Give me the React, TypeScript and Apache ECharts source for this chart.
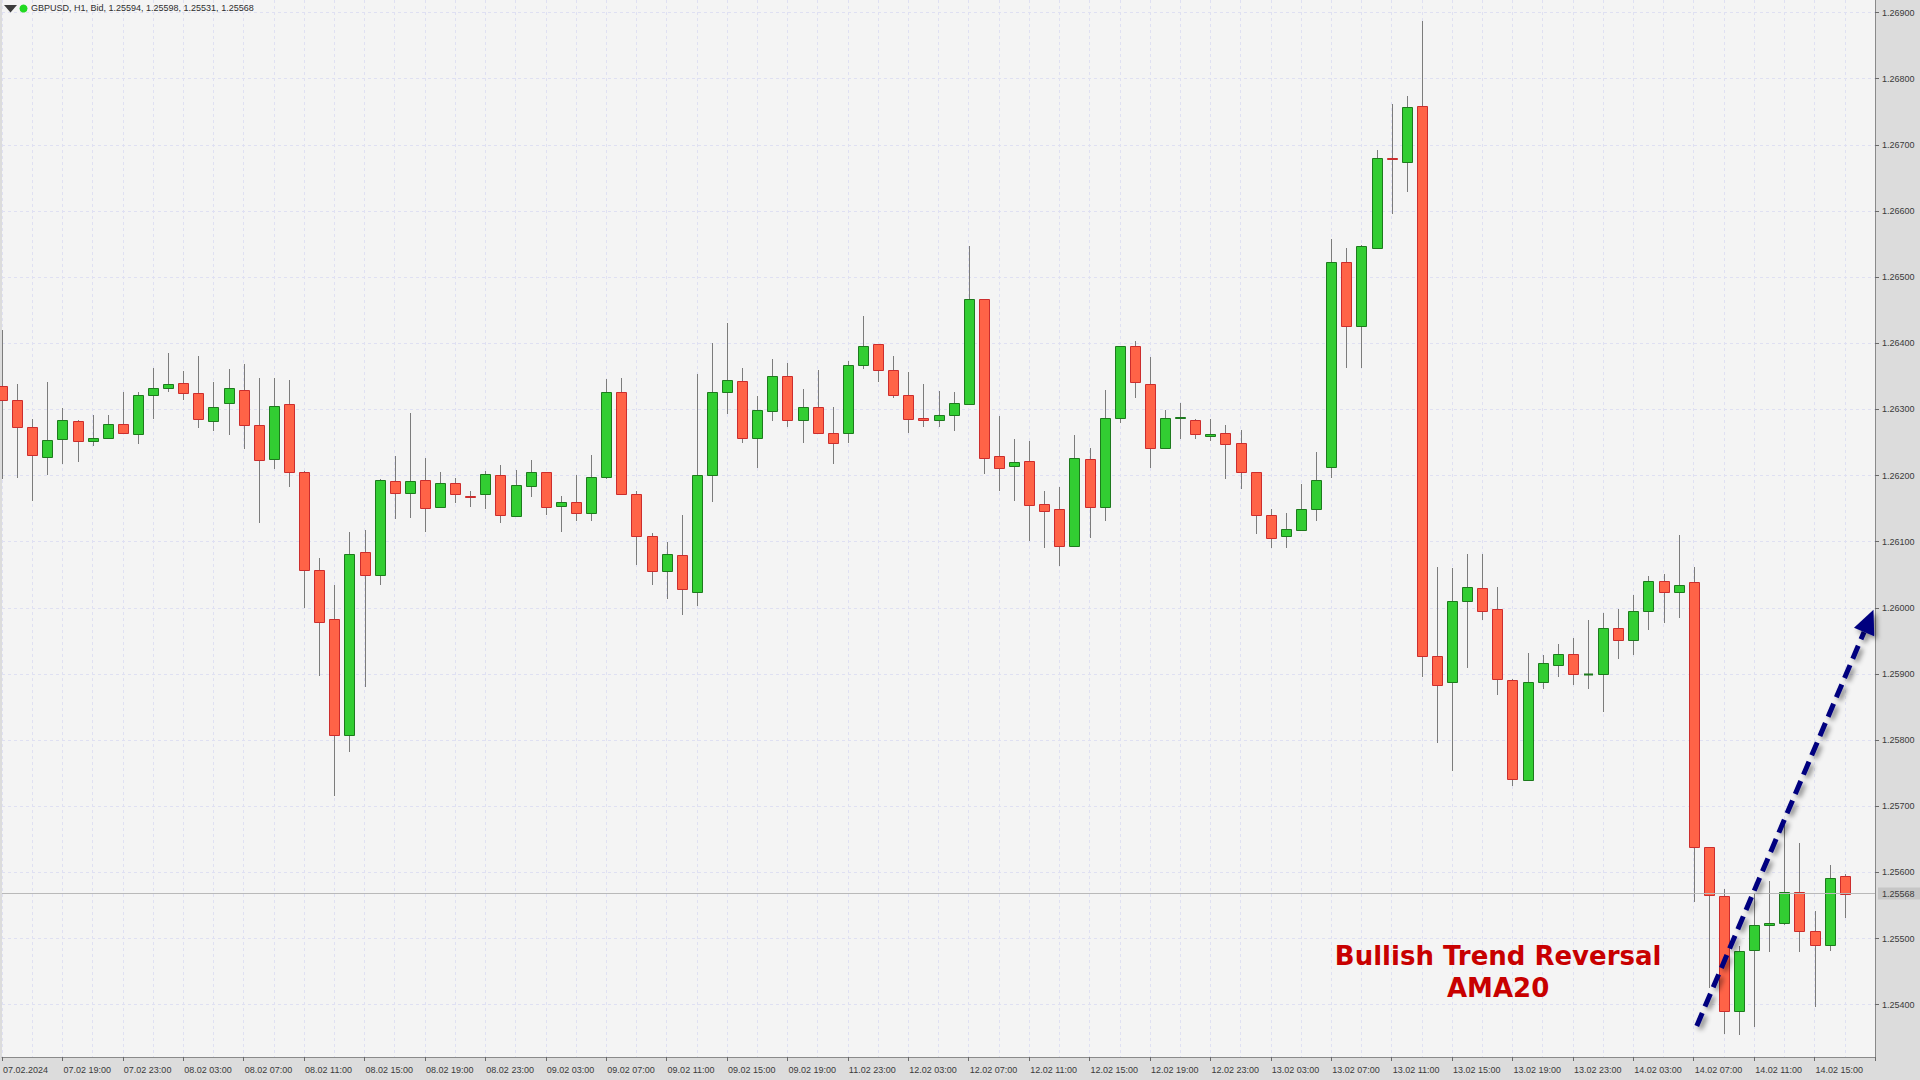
import React, { useEffect, useRef } from 'react';
import * as echarts from 'echarts';

// ---------- data ----------
const HEADER = 'GBPUSD, H1, Bid, 1.25594, 1.25598, 1.25531, 1.25568';

// trading sessions: [day, first hour, last hour]
const SESSIONS: [string, number, number][] = [
  ['07.02', 15, 23], ['08.02', 0, 23], ['09.02', 0, 22], ['11.02', 23, 23],
  ['12.02', 0, 23], ['13.02', 0, 23], ['14.02', 0, 19],
];
const CATEGORIES: string[] = [];
SESSIONS.forEach(([d, a, b]) => {
  for (let h = a; h <= b; h++) CATEGORIES.push(`${d} ${String(h).padStart(2, '0')}:00`);
});

const TICK_LABELS = [
  '07.02.2024', '07.02 19:00', '07.02 23:00', '08.02 03:00', '08.02 07:00', '08.02 11:00',
  '08.02 15:00', '08.02 19:00', '08.02 23:00', '09.02 03:00', '09.02 07:00', '09.02 11:00',
  '09.02 15:00', '09.02 19:00', '11.02 23:00', '12.02 03:00', '12.02 07:00', '12.02 11:00',
  '12.02 15:00', '12.02 19:00', '12.02 23:00', '13.02 03:00', '13.02 07:00', '13.02 11:00',
  '13.02 15:00', '13.02 19:00', '13.02 23:00', '14.02 03:00', '14.02 07:00', '14.02 11:00',
  '14.02 15:00',
];

const PRICE_TICKS = [
  1.254, 1.255, 1.256, 1.257, 1.258, 1.259, 1.26, 1.261,
  1.262, 1.263, 1.264, 1.265, 1.266, 1.267, 1.268, 1.269,
];
const CURRENT_PRICE = 1.25568;

const OPEN = [
  1.26335, 1.26315, 1.26273, 1.26228, 1.26255, 1.26282, 1.26252, 1.26257, 1.26278, 1.26263,
  1.26322, 1.26332, 1.2634, 1.26325, 1.26283, 1.26309, 1.26329, 1.26276, 1.26225, 1.26308,
  1.26205, 1.26058, 1.25983, 1.25808, 1.26085, 1.26049, 1.26192, 1.26174, 1.26194, 1.26153,
  1.26189, 1.26169, 1.26172, 1.26201, 1.26139, 1.26184, 1.26205, 1.26154, 1.2616, 1.26144,
  1.26198, 1.26326, 1.26172, 1.26108, 1.26055, 1.2608, 1.26024, 1.26201, 1.26326, 1.26343,
  1.26257, 1.26298, 1.26351, 1.26284, 1.26303, 1.26264, 1.26264, 1.26367, 1.26399, 1.26359,
  1.26322, 1.26287, 1.26284, 1.26292, 1.26308, 1.26467, 1.26229, 1.26214, 1.26222, 1.26157,
  1.26149, 1.26093, 1.26225, 1.26152, 1.26287, 1.26396, 1.26338, 1.26241, 1.26287, 1.26284,
  1.2626, 1.26265, 1.26249, 1.26205, 1.26141, 1.26108, 1.26117, 1.26149, 1.26213, 1.26523,
  1.26426, 1.26544, 1.2668, 1.26674, 1.26758, 1.25927, 1.25888, 1.2601, 1.2603, 1.25998,
  1.25891, 1.2574, 1.25888, 1.25913, 1.2593, 1.259, 1.259, 1.25969, 1.25951, 1.25995,
  1.26041, 1.26024, 1.26039, 1.25638, 1.25564, 1.2539, 1.25483, 1.25521, 1.25523, 1.25571,
  1.25512, 1.25491, 1.25594,
];
const HIGH = [
  1.2642, 1.26338, 1.26286, 1.26342, 1.26302, 1.26284, 1.26291, 1.26291, 1.26326, 1.26327,
  1.26363, 1.26385, 1.26358, 1.26381, 1.26341, 1.26361, 1.26369, 1.26347, 1.26347, 1.26345,
  1.26207, 1.26075, 1.26035, 1.26114, 1.26117, 1.26195, 1.26229, 1.26294, 1.26227, 1.26206,
  1.26197, 1.26176, 1.26207, 1.26216, 1.26209, 1.26223, 1.26206, 1.26169, 1.26201, 1.26231,
  1.26346, 1.26347, 1.26177, 1.26113, 1.26099, 1.2614, 1.26354, 1.26401, 1.26431, 1.26362,
  1.2632, 1.26376, 1.2637, 1.26331, 1.2636, 1.26303, 1.26373, 1.26441, 1.26399, 1.26381,
  1.26356, 1.26339, 1.26328, 1.26326, 1.26547, 1.26467, 1.2629, 1.26256, 1.26253, 1.26176,
  1.26182, 1.26262, 1.26242, 1.26329, 1.26396, 1.26404, 1.2638, 1.26299, 1.2631, 1.26285,
  1.26286, 1.26277, 1.26269, 1.26206, 1.2615, 1.26144, 1.26187, 1.26235, 1.26558, 1.26544,
  1.26548, 1.26692, 1.26762, 1.26774, 1.26887, 1.26062, 1.2606, 1.26081, 1.26081, 1.26032,
  1.25892, 1.25932, 1.25929, 1.25946, 1.25955, 1.25982, 1.25992, 1.25998, 1.2602, 1.26048,
  1.26051, 1.2611, 1.26062, 1.25638, 1.25575, 1.25489, 1.25569, 1.25587, 1.25677, 1.25645,
  1.25541, 1.25611, 1.25598,
];
const LOW = [
  1.26195, 1.26196, 1.26162, 1.26201, 1.26218, 1.26221, 1.26245, 1.26256, 1.26263, 1.26248,
  1.26286, 1.26327, 1.26314, 1.26272, 1.26268, 1.26261, 1.2624, 1.26129, 1.2621, 1.26183,
  1.26, 1.25897, 1.25715, 1.25782, 1.25881, 1.26035, 1.26134, 1.26136, 1.26115, 1.26152,
  1.26159, 1.26153, 1.2615, 1.26129, 1.26139, 1.26167, 1.26141, 1.26115, 1.26132, 1.26132,
  1.26195, 1.26172, 1.26065, 1.26035, 1.26013, 1.25989, 1.26003, 1.2616, 1.26293, 1.2625,
  1.26212, 1.26283, 1.26273, 1.2625, 1.26265, 1.26217, 1.2625, 1.26361, 1.26341, 1.26318,
  1.26265, 1.26273, 1.26273, 1.26268, 1.26308, 1.26202, 1.26177, 1.26162, 1.26101, 1.2609,
  1.26063, 1.26093, 1.26105, 1.26132, 1.26279, 1.26318, 1.26211, 1.26241, 1.26255, 1.26255,
  1.26252, 1.26195, 1.2618, 1.26112, 1.2609, 1.2609, 1.26117, 1.26131, 1.26197, 1.26363,
  1.26363, 1.26544, 1.26596, 1.26629, 1.25896, 1.25795, 1.25754, 1.25909, 1.25981, 1.25869,
  1.2573, 1.25738, 1.25878, 1.25896, 1.25884, 1.25878, 1.25842, 1.25923, 1.25929, 1.25966,
  1.25977, 1.25984, 1.25555, 1.25426, 1.25356, 1.25354, 1.25367, 1.25479, 1.25521, 1.25479,
  1.25396, 1.25482, 1.25531,
];
const CLOSE = [
  1.26314, 1.26273, 1.26231, 1.26254, 1.26284, 1.26252, 1.26257, 1.26278, 1.26264, 1.26322,
  1.26333, 1.26338, 1.26325, 1.26285, 1.26303, 1.26333, 1.26277, 1.26223, 1.26305, 1.26206,
  1.26057, 1.25978, 1.25808, 1.26082, 1.2605, 1.26194, 1.26174, 1.26192, 1.26151, 1.26189,
  1.26172, 1.26167, 1.26202, 1.26141, 1.26186, 1.26206, 1.26152, 1.2616, 1.26144, 1.26198,
  1.26326, 1.26172, 1.26109, 1.26055, 1.26082, 1.26028, 1.26201, 1.26326, 1.26345, 1.26257,
  1.26299, 1.26351, 1.26284, 1.26303, 1.26265, 1.2625, 1.26367, 1.26396, 1.26359, 1.26322,
  1.26286, 1.26284, 1.26292, 1.2631, 1.26467, 1.26227, 1.26211, 1.2622, 1.26156, 1.26147,
  1.26093, 1.26227, 1.26152, 1.26287, 1.26396, 1.26341, 1.26241, 1.26287, 1.26289, 1.26263,
  1.26263, 1.26247, 1.26206, 1.26141, 1.26106, 1.26119, 1.26149, 1.26193, 1.26523, 1.26426,
  1.26547, 1.2668, 1.26679, 1.26757, 1.25927, 1.25884, 1.26011, 1.26032, 1.25996, 1.25892,
  1.25741, 1.25888, 1.25916, 1.2593, 1.259, 1.259, 1.2597, 1.25951, 1.25995, 1.26041,
  1.26024, 1.26034, 1.25638, 1.25566, 1.2539, 1.25482, 1.25521, 1.25524, 1.25571, 1.25511,
  1.2549, 1.25592, 1.25568,
];

// annotation anchors in data space: [category index, price]
const ARROW_FROM: [number, number] = [112.2, 1.25368];
const ARROW_TO: [number, number] = [123.9, 1.25997];
const NOTE_LINES = ['Bullish Trend Reversal', 'AMA20'];
const NOTE_ANCHORS: [number, number][] = [[99.05, 1.25474], [99.05, 1.25426]];

// ---------- styles ----------
const AXIS_FONT = "'Liberation Sans Narrow', 'Arial Narrow', 'Liberation Sans', sans-serif";
const TEXT_COLOR = '#3a3a3a';
const GRID_LINE = { color: '#dfe0f2', type: [3, 3] as any, width: 1 };
const UP_FILL = '#32cd32';
const UP_BORDER = '#1d7a1d';
const DOWN_FILL = '#ff6347';
const DOWN_BORDER = '#cc2d2d';
const WICK = '#7c7c7c';

export default function App() {
  const ref = useRef<HTMLDivElement>(null);

  useEffect(() => {
    if (!ref.current) return;
    const chart = echarts.init(ref.current, undefined, { renderer: 'svg' });

    const data = OPEN.map((o, i) => [i, o, CLOSE[i], LOW[i], HIGH[i]]);

    chart.setOption({
      animation: false,
      backgroundColor: '#dcdcdc',
      grid: {
        left: 0, right: 45, top: 0, bottom: 23,
        show: true, backgroundColor: '#f4f4f4', borderWidth: 0,
      },
      xAxis: {
        type: 'category',
        data: CATEGORIES,
        boundaryGap: false,
        axisLine: { show: true, lineStyle: { color: '#8a8a8a', width: 1 } },
        axisTick: { show: true, interval: 3, length: 4, lineStyle: { color: '#6a6a6a' } },
        axisLabel: {
          interval: 3,
          formatter: (_v: string, i: number) => TICK_LABELS[i / 4] ?? '',
          align: 'left',
          margin: 8,
          color: TEXT_COLOR,
          fontSize: 9,
          fontFamily: AXIS_FONT,
          padding: [0, 0, 0, 1],
        },
        splitLine: { show: true, interval: 1, lineStyle: GRID_LINE },
      },
      yAxis: {
        type: 'value',
        position: 'right',
        min: 1.25321,
        max: 1.26919,
        axisLine: { show: true, lineStyle: { color: '#8a8a8a', width: 1 } },
        axisTick: { show: true, length: 4, customValues: PRICE_TICKS, lineStyle: { color: '#6a6a6a' } },
        axisLabel: {
          customValues: PRICE_TICKS,
          formatter: (v: number) => v.toFixed(5),
          margin: 7,
          color: TEXT_COLOR,
          fontSize: 9,
          fontFamily: AXIS_FONT,
        },
        splitLine: { show: true, lineStyle: GRID_LINE },
      },
      series: [
        {
          name: 'GBPUSD',
          type: 'custom',
          data,
          encode: { x: 0, y: [1, 2, 3, 4] },
          renderItem: (_params: any, api: any) => {
            const i = api.value(0);
            const o = api.value(1);
            const c = api.value(2);
            const l = api.value(3);
            const h = api.value(4);
            const pO = api.coord([i, o]);
            const pC = api.coord([i, c]);
            const pL = api.coord([i, l]);
            const pH = api.coord([i, h]);
            const cx = Math.round(pO[0]);
            const up = c >= o;
            const top = Math.round(Math.min(pO[1], pC[1]));
            const bot = Math.round(Math.max(pO[1], pC[1]));
            const children: any[] = [
              {
                type: 'line',
                shape: { x1: cx + 0.5, y1: Math.round(pH[1]), x2: cx + 0.5, y2: Math.round(pL[1]) },
                style: { stroke: WICK, lineWidth: 1 },
              },
            ];
            if (bot - top < 1) {
              children.push({
                type: 'line',
                shape: { x1: cx - 4, y1: top + 0.5, x2: cx + 5, y2: top + 0.5 },
                style: { stroke: up ? UP_BORDER : DOWN_BORDER, lineWidth: 2 },
              });
            } else {
              children.push({
                type: 'rect',
                shape: { x: cx - 4.5, y: top + 0.5, width: 10, height: bot - top },
                style: {
                  fill: up ? UP_FILL : DOWN_FILL,
                  stroke: up ? UP_BORDER : DOWN_BORDER,
                  lineWidth: 1,
                },
              });
            }
            return { type: 'group', children };
          },
          markLine: {
            silent: true,
            precision: 5,
            symbol: ['none', 'none'],
            data: [{ yAxis: CURRENT_PRICE }],
            lineStyle: { color: '#b9b9b9', type: 'solid', width: 1 },
            label: {
              position: 'end',
              formatter: CURRENT_PRICE.toFixed(5),
              backgroundColor: '#c6c6c6',
              color: TEXT_COLOR,
              fontSize: 9,
              fontFamily: AXIS_FONT,
              padding: [2, 8, 1, 4],
              distance: 3,
            },
          },
        },
      ],
    });

    // annotations anchored in data space
    const toPx = (i: number, p: number): [number, number] => {
      const f = Math.floor(i);
      const a = chart.convertToPixel({ xAxisIndex: 0, yAxisIndex: 0 }, [f, p]) as number[];
      const b = chart.convertToPixel({ xAxisIndex: 0, yAxisIndex: 0 }, [f + 1, p]) as number[];
      return [a[0] + (b[0] - a[0]) * (i - f), a[1]];
    };
    const S = toPx(ARROW_FROM[0], ARROW_FROM[1]);
    const T = toPx(ARROW_TO[0], ARROW_TO[1]);
    const dx = T[0] - S[0];
    const dy = T[1] - S[1];
    const len = Math.hypot(dx, dy);
    const ux = dx / len;
    const uy = dy / len;
    const headLen = 24;
    const headHalf = 11;
    const B: [number, number] = [T[0] - ux * headLen, T[1] - uy * headLen];
    const c1: [number, number] = [B[0] - uy * headHalf, B[1] + ux * headHalf];
    const c2: [number, number] = [B[0] + uy * headHalf, B[1] - ux * headHalf];
    const shadow = { shadowBlur: 5, shadowColor: 'rgba(0,0,0,0.45)', shadowOffsetX: 3, shadowOffsetY: 3 };

    const notes = NOTE_LINES.map((t, k) => {
      const p = toPx(NOTE_ANCHORS[k][0], NOTE_ANCHORS[k][1]);
      return {
        type: 'text',
        z: 100,
        x: p[0],
        y: p[1],
        style: {
          text: t,
          fill: '#c80000',
          fontSize: 26,
          fontWeight: 'bold',
          fontFamily: "'DejaVu Sans', Verdana, sans-serif",
          align: 'center',
          verticalAlign: 'middle',
        },
      };
    });

    chart.setOption({
      graphic: [
        {
          type: 'line',
          z: 100,
          shape: { x1: S[0], y1: S[1], x2: B[0], y2: B[1] },
          style: { stroke: '#00007f', lineWidth: 5, lineDash: [14, 7], lineCap: 'butt', ...shadow },
        },
        {
          type: 'polygon',
          z: 100,
          shape: { points: [T, c1, c2] },
          style: { fill: '#00007f', ...shadow },
        },
        ...notes,
        {
          type: 'polygon',
          z: 100,
          shape: { points: [[4, 5], [17, 5], [10.5, 12.5]] },
          style: { fill: '#3c3c3c' },
        },
        {
          type: 'circle',
          z: 100,
          shape: { cx: 23.5, cy: 8.5, r: 4 },
          style: { fill: '#21d921' },
        },
        {
          type: 'text',
          z: 100,
          x: 31,
          y: 7.5,
          style: {
            text: HEADER,
            fill: '#2e2e2e',
            fontSize: 9,
            fontFamily: AXIS_FONT,
            align: 'left',
            verticalAlign: 'middle',
          },
        },
      ],
    });

    return () => chart.dispose();
  }, []);

  return (
    <div
      ref={ref}
      style={{ position: 'fixed', left: 0, top: 0, width: 1920, height: 1080 }}
    />
  );
}
